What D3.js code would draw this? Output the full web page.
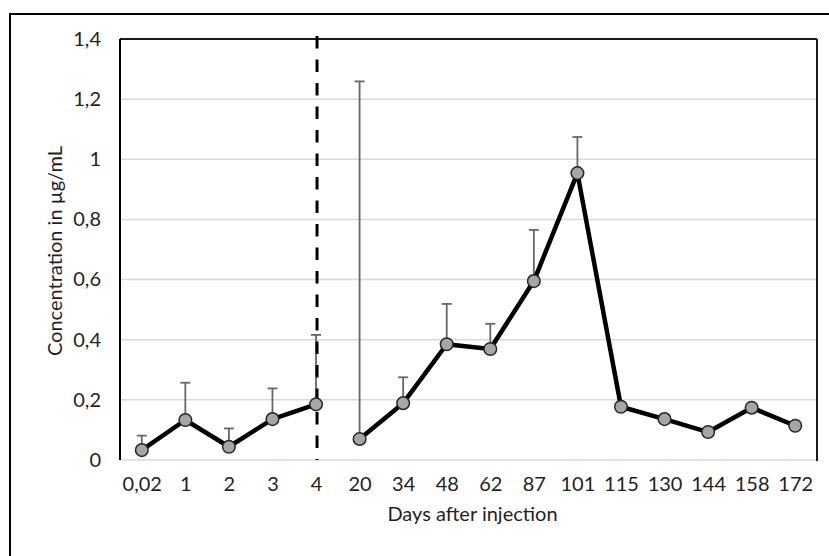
<!DOCTYPE html>
<html>
<head>
<meta charset="utf-8">
<script src="https://cdn.jsdelivr.net/npm/d3@7"></script>
<style>
  body { margin: 0; background: #fff; }
  svg text { font-family: Lato, "Open Sans", sans-serif; fill: #1f1f1f; }
</style>
</head>
<body>
<div id="chart"></div>
<script>
(function(){
var width = 829,
	height = 556,
	plot = {left:120, right:817, top:39, bottom:460},
	fontSize = "20px";

// data
var days = ["0,02","1","2","3","4","20","34","48","62","87","101","115","130","144","158","172"];
var mean = [0.033,0.133,0.044,0.136,0.185,0.070,0.189,0.385,0.369,0.595,0.954,0.177,0.136,0.093,0.174,0.114];
var upper = [0.081,0.257,0.105,0.238,0.416,1.259,0.275,0.519,0.453,0.765,1.074,null,null,null,null,null];
var yTicks = [0,0.2,0.4,0.6,0.8,1,1.2,1.4];
var breakAfter = "4";

var locale = d3.formatLocale({decimal:",", thousands:".", grouping:[3], currency:["","€"]});
var fmt = locale.format(".1~f");

var X = d3.scalePoint().domain(days).range([plot.left, plot.right]).padding(0.5);
var Y = d3.scaleLinear().domain([0,1.4]).range([plot.bottom, plot.top]);

var svg = d3.select("#chart").append("svg")
	.attr("width", width)
	.attr("height", height);

// outer frame (only top and left visible)
svg.append("rect")
	.attr("x",10).attr("y",14).attr("width",1000).attr("height",1000)
	.attr("fill","none").attr("stroke","#000").attr("stroke-width",2);

// gridlines
svg.append("g").selectAll("line").data(yTicks).enter().append("line")
	.attr("x1",plot.left).attr("x2",plot.right)
	.attr("y1",function(d){return Y(d)}).attr("y2",function(d){return Y(d)})
	.attr("stroke","#d9d9d9").attr("stroke-width",1.5);

// plot frame
svg.append("line").attr("x1",plot.left).attr("x2",plot.right)
	.attr("y1",plot.top).attr("y2",plot.top).attr("stroke","#1a1a1a").attr("stroke-width",2);
svg.append("line").attr("x1",plot.right).attr("x2",plot.right)
	.attr("y1",plot.top).attr("y2",plot.bottom+1).attr("stroke","#1a1a1a").attr("stroke-width",2);
svg.append("line").attr("x1",plot.left).attr("x2",plot.left)
	.attr("y1",plot.top).attr("y2",plot.bottom).attr("stroke","#000").attr("stroke-width",2);

// y tick labels
var yAxis = d3.axisLeft(Y).tickValues(yTicks).tickFormat(fmt).tickSize(0).tickPadding(19);
var ya = svg.append("g").attr("transform","translate("+plot.left+",0)").call(yAxis);
ya.select(".domain").remove();
ya.selectAll("text").style("font-size",fontSize).attr("fill","#1f1f1f")
	.style("font-family","Lato, 'Open Sans', sans-serif");

// x tick labels
var xAxis = d3.axisBottom(X).tickSize(0).tickPadding(17);
var xa = svg.append("g").attr("transform","translate(0,"+plot.bottom+")").call(xAxis);
xa.select(".domain").remove();
xa.selectAll("text").style("font-size",fontSize).attr("fill","#1f1f1f")
	.style("font-family","Lato, 'Open Sans', sans-serif");

// axis titles
svg.append("text").attr("x",(plot.left+plot.right)/2+4).attr("y",521)
	.attr("text-anchor","middle").style("font-size",fontSize).text("Days after injection");
svg.append("text").attr("transform","translate(62,"+251+") rotate(-90)")
	.attr("text-anchor","middle").style("font-size",fontSize).text("Concentration in µg/mL");

var pts = days.map(function(d,i){ return {day:d, v:mean[i], up:upper[i]}; });

// error bars (upper only)
var eb = svg.append("g").selectAll("g").data(pts.filter(function(d){return d.up!=null})).enter().append("g");
eb.append("line")
	.attr("x1",function(d){return X(d.day)}).attr("x2",function(d){return X(d.day)})
	.attr("y1",function(d){return Y(d.v)}).attr("y2",function(d){return Y(d.up)})
	.attr("stroke","#666").attr("stroke-width",1.8);
eb.append("line")
	.attr("x1",function(d){return X(d.day)-5}).attr("x2",function(d){return X(d.day)+5})
	.attr("y1",function(d){return Y(d.up)}).attr("y2",function(d){return Y(d.up)})
	.attr("stroke","#666").attr("stroke-width",1.8);

// dashed separator at day 4
svg.append("line")
	.attr("x1",X(breakAfter)+1).attr("x2",X(breakAfter)+1)
	.attr("y1",36).attr("y2",plot.bottom)
	.attr("stroke","#000").attr("stroke-width",3).attr("stroke-dasharray","12.5,11");

// line, broken after day 4
var k = days.indexOf(breakAfter)+1;
var line = d3.line().x(function(d){return X(d.day)}).y(function(d){return Y(d.v)});
svg.append("g").selectAll("path").data([pts.slice(0,k), pts.slice(k)]).enter().append("path")
	.attr("d",line).attr("fill","none").attr("stroke","#000")
	.attr("stroke-width",4.5).attr("stroke-linejoin","round");

// markers
svg.append("g").selectAll("circle").data(pts).enter().append("circle")
	.attr("cx",function(d){return X(d.day)}).attr("cy",function(d){return Y(d.v)})
	.attr("r",6.3).attr("fill","#a6a6a6").attr("stroke","#262626").attr("stroke-width",1.5);
})()
</script>
</body>
</html>
